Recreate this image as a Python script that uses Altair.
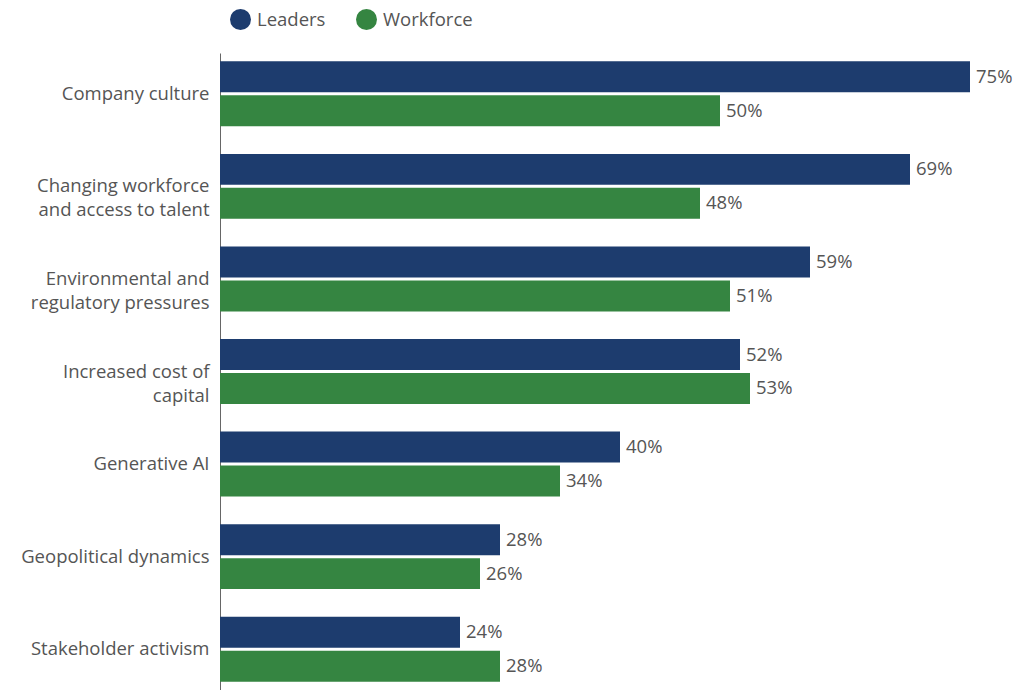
import altair as alt
import pandas as pd

categories = [
    "Company culture",
    "Changing workforce|and access to talent",
    "Environmental and|regulatory pressures",
    "Increased cost of|capital",
    "Generative AI",
    "Geopolitical dynamics",
    "Stakeholder activism",
]
series = ["Leaders", "Workforce"]
leaders = [75, 69, 59, 52, 40, 28, 24]
workforce = [50, 48, 51, 53, 34, 26, 28]
colors = ["#1d3c6e", "#358541"]

rows = []
for c, l, w in zip(categories, leaders, workforce):
    rows.append({"category": c, "series": "Leaders", "value": l, "label": f"{l}%"})
    rows.append({"category": c, "series": "Workforce", "value": w, "label": f"{w}%"})
df = pd.DataFrame(rows)

FONT = "Open Sans"
TXT = "#555555"
FS = 18.5

y = alt.Y("category:N", sort=categories, title=None,
          scale=alt.Scale(paddingInner=0.2986, paddingOuter=0.09),
          axis=alt.Axis(labelExpr="split(datum.label, '|')", labelFontSize=FS,
                        labelFont=FONT, labelColor=TXT, labelLineHeight=24,
                        labelPadding=11, ticks=False, domainColor="#666666",
                        domainWidth=1, labelLimit=300))
yoff = alt.YOffset("series:N", sort=series, scale=alt.Scale(paddingInner=0.088))
x = alt.X("value:Q", scale=alt.Scale(domain=[0, 80]), axis=None)

base = alt.Chart(df).encode(y=y, yOffset=yoff, x=x)

bars = base.mark_bar().encode(
    color=alt.Color("series:N", sort=series,
                    scale=alt.Scale(domain=series, range=colors),
                    legend=alt.Legend(title=None, orient="none", legendX=10, legendY=-44,
                                      direction="horizontal", symbolType="circle",
                                      symbolSize=441, symbolStrokeWidth=0,
                                      labelFont=FONT, labelFontSize=FS, labelColor=TXT,
                                      columnPadding=30, labelOffset=6, padding=0))
)
labels = base.mark_text(align="left", baseline="middle", dx=6, font=FONT,
                        fontSize=FS, color=TXT).encode(text="label:N")

chart = (bars + labels).properties(
    width=800, height=637,
    background="white",
    autosize=alt.AutoSizeParams(type="none"),
    padding={"left": 220, "top": 53, "right": 7, "bottom": 0},
).configure_view(stroke=None)

chart.save("out.html", embed_options={"renderer": "svg", "actions": False})
